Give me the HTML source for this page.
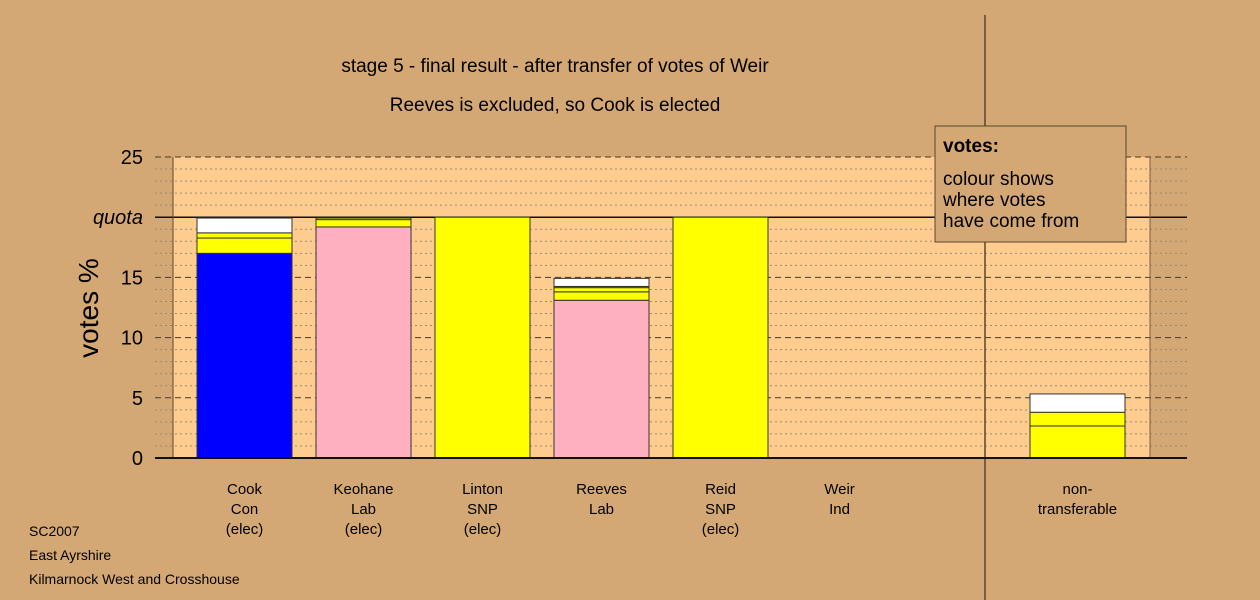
<!DOCTYPE html>
<html><head><meta charset="utf-8"><style>
body{margin:0;background:#D4A875;}
svg{display:block;font-family:"Liberation Sans",sans-serif;}
</style></head><body>
<svg id="c" width="1260" height="600">
<rect width="1260" height="600" fill="#D4A875"/>
<rect x="173" y="157" width="977" height="301" fill="#FFCC90"/>
<g id="grid"></g>
<g id="bars"></g>
<line x1="173" y1="157" x2="173" y2="458" stroke="#5a4630"/>
<line x1="1150" y1="157" x2="1150" y2="458" stroke="#7a6040"/>
<line x1="985" y1="15" x2="985" y2="600" stroke="#5a4630" stroke-width="1.5"/>
<line x1="155" y1="458" x2="1187" y2="458" stroke="#111" stroke-width="2"/>
<g id="yticks" font-size="20" text-anchor="end"></g>
<g id="xlabels" font-size="15" text-anchor="middle"></g>
<text x="98" y="308" font-size="28" text-anchor="middle" transform="rotate(-90 98 308)">votes %</text>
<text x="555" y="72" font-size="19" text-anchor="middle">stage 5 - final result - after transfer of votes of Weir</text>
<text x="555" y="111" font-size="19" text-anchor="middle">Reeves is excluded, so Cook is elected</text>
<g>
<rect x="935" y="126" width="191" height="116" fill="#D4A875" stroke="#5a4630"/>
<text x="943" y="152" font-size="19" font-weight="bold">votes:</text>
<text x="943" y="185" font-size="19">colour shows</text>
<text x="943" y="206" font-size="19">where votes</text>
<text x="943" y="227" font-size="19">have come from</text>
</g>
<text x="29" y="536" font-size="14">SC2007</text>
<text x="29" y="560" font-size="14">East Ayrshire</text>
<text x="29" y="584" font-size="14">Kilmarnock West and Crosshouse</text>
</svg>
<script>
const categories=[["Cook","Con","(elec)"],["Keohane","Lab","(elec)"],["Linton","SNP","(elec)"],["Reeves","Lab"],["Reid","SNP","(elec)"],["Weir","Ind"],["non-","transferable"]];
const slots=[0,1,2,3,4,5,7];
const segValues=[[17.0,1.27,0.43,1.23],[19.19,0.61,0.13],[20],[13.1,0.7,0.35,0.1,0.67],[20],[0],[2.66,1.14,1.52]];
const segColors=[["#0000FF","#FFFF00","#FFFF00","#FFFFFF"],["#FFB0C0","#FFFF00","#FFFF00"],["#FFFF00"],["#FFB0C0","#FFFF00","#FFFF00","#FFFF00","#FFFFFF"],["#FFFF00"],["#FFFF00"],["#FFFF00","#FFFF00","#FFFFFF"]];
const yTicks=[0,5,10,15,20,25];
const yLabels=["0","5","10","15","quota","25"];
const NS="http://www.w3.org/2000/svg";
const Y=v=>458-v*12.04;
const X=s=>244.5+s*119;
function mk(t,a,p){const e=document.createElementNS(NS,t);for(const k in a)e.setAttribute(k,a[k]);p.appendChild(e);return e;}
const grid=document.getElementById('grid');
for(let v=1;v<=25;v++){
  const l=mk('line',{x1:155,x2:1187,y1:Y(v),y2:Y(v)},grid);
  
  
  if(v===20){l.setAttribute('stroke','#111');l.setAttribute('stroke-width','1.5');}
  else if(v%5===0){l.setAttribute('stroke','#4a3a28');l.setAttribute('stroke-dasharray','6,4');}
  else{l.setAttribute('stroke','#9a8a70');l.setAttribute('stroke-dasharray','2,3');}
}
const yt=document.getElementById('yticks');
yTicks.forEach((v,i)=>{const t=mk('text',{x:143,y:Y(v)+7},yt);t.textContent=yLabels[i];
 if(yLabels[i]==="quota")t.setAttribute('font-style','italic');
 
 });
const bars=document.getElementById('bars');
segValues.forEach((segs,i)=>{let base=0;const cx=X(slots[i]);
 segs.forEach((v,j)=>{const r=mk('rect',{x:cx-47.5,width:95,y:Y(base+v),height:Math.max(v*12.04,0.5),fill:segColors[i][j],stroke:"#333","stroke-width":1},bars);
  
  
  base+=v;});
 const xl=document.getElementById('xlabels');
 categories[i].forEach((s,k)=>{const t=mk('text',{x:cx,y:494+k*20},xl);t.textContent=s;
  
  });
});
</script>
</body></html>
